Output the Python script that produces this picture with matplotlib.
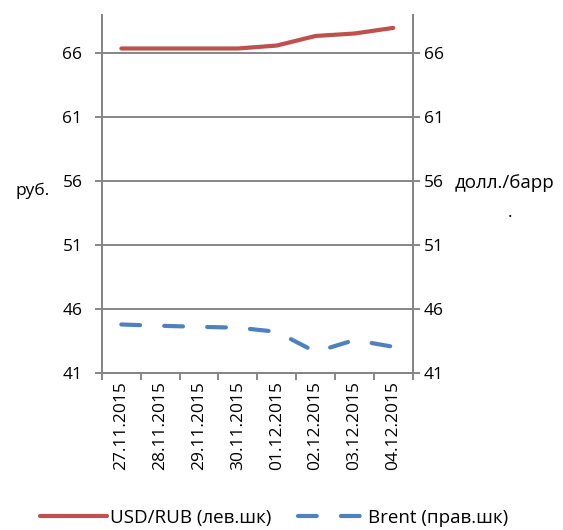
import matplotlib.pyplot as plt

plt.rcParams['font.family'] = ['Open Sans', 'DejaVu Sans']

dates = ['27.11.2015', '28.11.2015', '29.11.2015', '30.11.2015',
         '01.12.2015', '02.12.2015', '03.12.2015', '04.12.2015']
usd_rub = [66.37, 66.37, 66.37, 66.37, 66.6, 67.35, 67.54, 67.98]
brent = [44.8, 44.7, 44.62, 44.55, 44.23, 42.66, 43.58, 43.06]
yticks = [41, 46, 51, 56, 61, 66]

grey = '#868686'
red = '#c0504d'
blue = '#4f81bd'
fs = 12.5

fig = plt.figure(figsize=(5.63, 5.30), dpi=100)
ax = fig.add_axes([0.181, 0.296, 0.552, 0.676])
ax2 = ax.twinx()

x = list(range(len(dates)))
l1, = ax.plot(x, usd_rub, color=red, lw=3, solid_capstyle='round')
l2, = ax2.plot(x, brent, color=blue, lw=3, dashes=(4.5, 5.8),
               dash_capstyle='round')

for a in (ax, ax2):
    a.set_ylim(41, 69)
    a.set_yticks(yticks)
    a.set_xlim(-0.5, len(dates) - 0.5)
    a.spines['top'].set_visible(False)
    for s in ('left', 'right', 'bottom'):
        a.spines[s].set_color(grey)
        a.spines[s].set_linewidth(1.4)
    a.tick_params(axis='y', length=5, width=1.4, color=grey, labelsize=fs)
ax.tick_params(axis='y', pad=9)
ax2.tick_params(axis='y', pad=3)

ax.grid(axis='y', color=grey, lw=1.4)
ax.set_axisbelow(True)
ax.set_xticks([i - 0.5 for i in range(len(dates) + 1)], minor=False)
ax.set_xticklabels([])
ax.set_xticks(x, minor=True)
ax.set_xticklabels(dates, minor=True, rotation=90, fontsize=fs)
ax.tick_params(axis='x', which='major', length=5, width=1.4, color=grey)
ax.tick_params(axis='x', which='minor', length=0, pad=6)

fig.text(0.058, 0.64, 'руб.', fontsize=fs, ha='center', va='center')
fig.text(0.807, 0.655, 'долл./барр', fontsize=13.5, ha='left', va='center')
fig.text(0.906, 0.598, '.', fontsize=fs, ha='center', va='center')

fig.legend([l1, l2], ['USD/RUB (лев.шк)', 'Brent (прав.шк)'],
           loc='center', bbox_to_anchor=(0.487, 0.023), ncol=2, frameon=False,
           fontsize=13.5, handlelength=3.6, columnspacing=1.4, handletextpad=0.15)

fig.savefig('out.png', dpi=100)
